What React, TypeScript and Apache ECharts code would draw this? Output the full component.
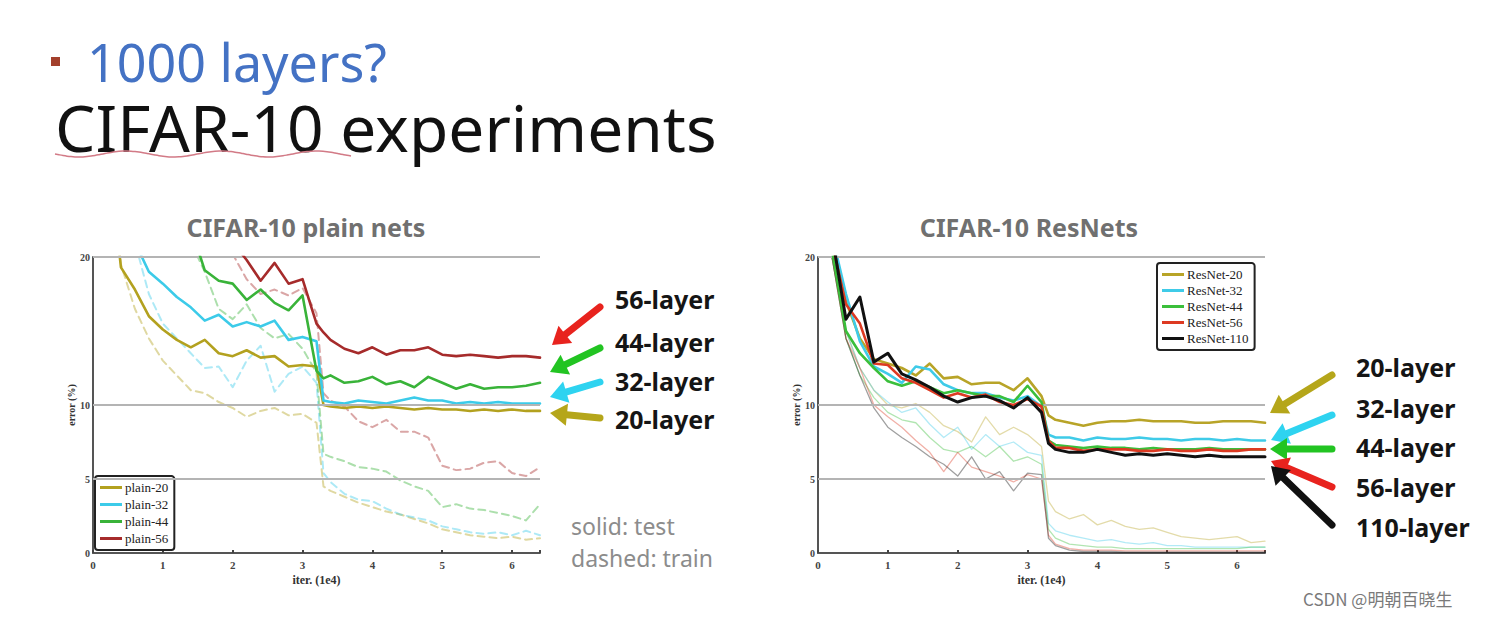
import React, { useEffect, useRef } from 'react';
import * as echarts from 'echarts';

// iterations (1e4)
const ITER = [0, 0.2, 0.4, 0.6, 0.8, 1, 1.2, 1.4, 1.6, 1.8, 2, 2.2, 2.4, 2.6, 2.8, 3, 3.2, 3.3, 3.4, 3.6, 3.8, 4, 4.2, 4.4, 4.6, 4.8, 5, 5.2, 5.4, 5.6, 5.8, 6, 6.2, 6.4];
const X_TICKS = [0, 1, 2, 3, 4, 5, 6];
const Y_TICKS = [0, 5, 10, 20];
const GRID_LINES = [5, 10, 20];

const PLAIN_NAMES = ['plain-20', 'plain-32', 'plain-44', 'plain-56'];
const RES_NAMES = ['ResNet-20', 'ResNet-32', 'ResNet-44', 'ResNet-56', 'ResNet-110'];

// plain nets, test error (solid)
const PLAIN20_TEST = [40, 28, 19.3, 17.8, 16.0, 15.1, 14.4, 13.9, 14.4, 13.5, 13.3, 13.7, 13.2, 13.3, 12.6, 12.7, 12.6, 10.0, 9.9, 9.8, 9.9, 9.8, 9.9, 9.8, 9.7, 9.8, 9.7, 9.7, 9.6, 9.7, 9.6, 9.7, 9.6, 9.6];
const PLAIN32_TEST = [40, 32, 26, 21, 19.0, 18.2, 17.3, 16.6, 15.7, 16.1, 15.3, 15.6, 15.3, 15.7, 14.4, 14.6, 14.3, 10.3, 10.2, 10.1, 10.3, 10.2, 10.1, 10.3, 10.5, 10.3, 10.3, 10.1, 10.2, 10.1, 10.2, 10.1, 10.1, 10.1];
const PLAIN44_TEST = [40, 36, 32, 29, 27, 25, 23.5, 22, 19.1, 18.4, 18.2, 17.1, 17.8, 16.9, 16.4, 17.4, 12.3, 11.8, 12.0, 11.5, 11.6, 11.9, 11.4, 11.6, 11.2, 11.9, 11.5, 11.1, 11.4, 11.1, 11.2, 11.2, 11.3, 11.5];
const PLAIN56_TEST = [40, 38, 36, 34, 32, 30, 28, 26, 24, 22, 21, 19.8, 18.4, 19.6, 18.2, 18.5, 15.5, 14.9, 14.4, 13.8, 13.5, 13.9, 13.4, 13.7, 13.7, 13.9, 13.4, 13.3, 13.4, 13.3, 13.2, 13.3, 13.3, 13.2];
// plain nets, training error (dashed)
const PLAIN20_TRAIN = [40, 30, 19.5, 16.5, 14.5, 13, 12, 11, 10.8, 10.2, 9.8, 9.2, 9.6, 9.8, 9.3, 9.4, 8.8, 4.5, 4.2, 3.8, 3.4, 3.1, 2.8, 2.6, 2.3, 2.0, 1.6, 1.4, 1.2, 1.1, 1.0, 1.1, 0.9, 1.0];
const PLAIN32_TRAIN = [40, 34, 27, 21, 17.5, 15.5, 14.5, 13.5, 12.5, 12.6, 11.2, 13.0, 14.0, 10.9, 12.1, 12.6, 11.5, 5.4, 4.8, 4.0, 3.6, 3.5, 3.0, 2.6, 2.4, 2.2, 1.8, 1.6, 1.4, 1.3, 1.4, 1.2, 1.5, 1.2];
const PLAIN44_TRAIN = [40, 38, 35, 32, 29, 26, 23, 21, 19, 16.5, 15.8, 16.8, 15.2, 14.5, 14.8, 13.8, 12.2, 6.7, 6.5, 6.2, 5.8, 5.7, 5.5, 4.9, 4.5, 4.2, 3.1, 3.3, 3.0, 2.9, 2.7, 2.5, 2.2, 3.3];
const PLAIN56_TRAIN = [40, 38, 36, 34, 32, 30, 28, 26, 24, 22, 20.2, 18.5, 17.5, 17.8, 17.4, 17.9, 16.2, 10.8, 10.3, 9.9, 8.9, 8.5, 9.0, 8.2, 8.2, 7.8, 5.9, 5.6, 5.7, 6.1, 6.2, 5.4, 5.2, 5.8];

// ResNets, test error (bold)
const RES20_TEST = [40, 21, 17, 14.5, 13.1, 12.8, 12.5, 12.0, 12.8, 11.8, 11.9, 11.4, 11.5, 11.5, 11.0, 11.8, 10.6, 9.3, 9.0, 8.8, 8.6, 8.8, 8.9, 8.9, 9.0, 8.9, 8.9, 8.9, 8.8, 8.8, 8.9, 8.9, 8.9, 8.8];
const RES32_TEST = [40, 21.5, 17.5, 14.3, 12.6, 12.1, 11.5, 12.6, 12.4, 11.4, 11.0, 10.8, 10.8, 10.5, 10.3, 10.6, 9.9, 8.0, 7.8, 7.8, 7.6, 7.8, 7.7, 7.7, 7.8, 7.7, 7.7, 7.6, 7.7, 7.7, 7.6, 7.7, 7.6, 7.6];
const RES44_TEST = [40, 20.5, 15, 13.5, 12.5, 11.6, 11.3, 11.6, 11.2, 10.8, 11.0, 10.8, 10.6, 10.6, 10.2, 11.3, 10.2, 7.6, 7.3, 7.2, 7.1, 7.2, 7.1, 7.1, 7.0, 7.1, 7.0, 7.0, 7.0, 7.1, 7.0, 7.0, 7.0, 7.0];
const RES56_TEST = [40, 21, 16.8, 15.5, 12.8, 12.7, 11.8, 11.5, 11.0, 10.5, 10.8, 10.5, 10.7, 10.2, 10.0, 10.4, 9.9, 7.6, 7.1, 7.1, 6.9, 7.0, 7.0, 7.0, 6.9, 6.9, 7.0, 6.9, 6.9, 7.0, 6.9, 6.9, 7.0, 7.0];
const RES110_TEST = [40, 21.5, 15.8, 17.3, 12.9, 13.5, 12.1, 11.7, 11.2, 10.6, 10.2, 10.5, 10.6, 10.3, 9.8, 10.5, 9.5, 7.4, 7.0, 6.8, 6.8, 7.0, 6.8, 6.6, 6.7, 6.6, 6.7, 6.6, 6.5, 6.6, 6.5, 6.5, 6.5, 6.5];
// ResNets, training error (thin)
const RES20_TRAIN = [40, 20, 15, 12.5, 11, 10, 9.8, 10.1, 9.5, 8.6, 8.2, 7.5, 9.2, 8.0, 8.5, 8.0, 7.2, 3.5, 2.8, 2.3, 2.6, 1.9, 2.2, 1.8, 1.6, 1.7, 1.4, 1.1, 1.0, 0.9, 1.0, 1.1, 0.7, 0.8];
const RES32_TRAIN = [40, 20, 15, 12.5, 11, 10.2, 9.5, 9.8, 8.7, 7.8, 8.5, 7.0, 8.0, 7.2, 7.5, 6.8, 6.6, 2.0, 1.5, 1.2, 1.0, 0.8, 0.9, 0.7, 0.6, 0.7, 0.5, 0.5, 0.4, 0.4, 0.4, 0.4, 0.4, 0.4];
const RES44_TRAIN = [40, 20, 14.5, 12, 10.5, 9.5, 9.0, 8.8, 7.8, 7.0, 6.8, 7.2, 6.5, 7.2, 6.2, 6.5, 6.0, 1.6, 1.0, 0.6, 0.5, 0.4, 0.4, 0.3, 0.3, 0.3, 0.3, 0.3, 0.3, 0.3, 0.3, 0.3, 0.4, 0.4];
const RES56_TRAIN = [40, 20, 14.5, 12.5, 10, 9.2, 8.5, 7.6, 6.8, 5.5, 6.8, 5.8, 5.5, 5.2, 4.8, 5.3, 5.0, 1.2, 0.6, 0.3, 0.2, 0.2, 0.2, 0.15, 0.15, 0.15, 0.15, 0.15, 0.15, 0.15, 0.15, 0.15, 0.15, 0.15];
const RES110_TRAIN = [40, 20, 14.5, 12, 9.8, 8.5, 7.8, 7.2, 6.5, 6.0, 5.2, 6.5, 5.0, 5.5, 4.2, 5.4, 5.3, 1.0, 0.5, 0.2, 0.1, 0.1, 0.1, 0.05, 0.05, 0.05, 0.05, 0.05, 0.05, 0.05, 0.05, 0.05, 0.05, 0.05];

const PLAIN_COLORS = ['#b3a11f', '#3ccbe9', '#39b339', '#a62b2b'];
const RES_COLORS = ['#b8a428', '#3fcbe8', '#3bbf3b', '#dd3a22', '#111111'];

const LEFT_LABELS = ['56-layer', '44-layer', '32-layer', '20-layer'];
const RIGHT_LABELS = ['20-layer', '32-layer', '44-layer', '56-layer', '110-layer'];

const SERIF = '"Liberation Serif", "DejaVu Serif", serif';
const SANS = '"Noto Sans", "Open Sans", sans-serif';

function lineSeries(name: string, values: number[], color: string, axis: number, width: number, dashed: boolean, opacity: number, z: number) {
  return {
    type: 'line',
    name,
    xAxisIndex: axis,
    yAxisIndex: axis,
    data: ITER.map((x, i) => [x, values[i]]),
    symbol: 'none',
    showSymbol: false,
    color,
    silent: true,
    z,
    lineStyle: { color, width, opacity, type: dashed ? [7, 5] : 'solid', cap: 'round', join: 'round' },
  };
}

function gridSeries(axis: number) {
  return {
    type: 'line',
    name: 'grid' + axis,
    xAxisIndex: axis,
    yAxisIndex: axis,
    data: [],
    silent: true,
    z: 1,
    markLine: {
      silent: true,
      symbol: 'none',
      animation: false,
      label: { show: false },
      lineStyle: { color: '#b4b4b4', width: 2, type: 'solid' },
      data: GRID_LINES.map((v) => ({ yAxis: v })),
    },
  };
}

function arrow(t: number[], h: number[], color: string) {
  const dx = h[0] - t[0];
  const dy = h[1] - t[1];
  const len = Math.hypot(dx, dy);
  const ux = dx / len;
  const uy = dy / len;
  const nx = -uy;
  const ny = ux;
  const L = 17;
  const W = 11;
  const bx = h[0] - ux * L;
  const by = h[1] - uy * L;
  return [
    { type: 'line', shape: { x1: t[0], y1: t[1], x2: bx + ux * 3, y2: by + uy * 3 }, style: { stroke: color, lineWidth: 7, lineCap: 'round' } },
    { type: 'polygon', shape: { points: [[h[0], h[1]], [bx + nx * W, by + ny * W], [bx - nx * W, by - ny * W]] }, style: { fill: color } },
  ];
}

const axisCommon = (gridIndex: number) => ({
  x: {
    type: 'value', gridIndex, min: 0, max: 6.4, interval: 1,
    name: 'iter. (1e4)', nameLocation: 'middle', nameGap: 21,
    nameTextStyle: { fontFamily: SERIF, fontSize: 12, fontWeight: 'bold', color: '#333' },
    axisLine: { show: true, lineStyle: { color: '#555', width: 2 } },
    axisTick: { show: true, inside: true, length: 3, lineStyle: { color: '#444', width: 2 } },
    axisLabel: { fontFamily: SERIF, fontSize: 11, fontWeight: 'bold', color: '#444', margin: 6, formatter: (v: number) => (X_TICKS.includes(v) ? String(v) : '') },
    splitLine: { show: false },
  },
  y: {
    type: 'value', gridIndex, min: 0, max: 20, interval: 5,
    name: 'error (%)', nameLocation: 'middle', nameGap: 16, nameRotate: 90,
    nameTextStyle: { fontFamily: SERIF, fontSize: 10, fontWeight: 'bold', color: '#333' },
    axisLine: { show: true, lineStyle: { color: '#555', width: 2 } },
    axisTick: { show: false },
    axisLabel: { fontFamily: SERIF, fontSize: 10, fontWeight: 'bold', color: '#444', margin: 3, formatter: (v: number) => (Y_TICKS.includes(v) ? String(v) : '') },
    splitLine: { show: false },
  },
});

export default function App() {
  const ref = useRef<HTMLDivElement>(null);
  useEffect(() => {
    if (!ref.current) return;
    const chart = echarts.init(ref.current, undefined, { renderer: 'svg' });
    const a0 = axisCommon(0);
    const a1 = axisCommon(1);

    const plainTest = [PLAIN20_TEST, PLAIN32_TEST, PLAIN44_TEST, PLAIN56_TEST];
    const plainTrain = [PLAIN20_TRAIN, PLAIN32_TRAIN, PLAIN44_TRAIN, PLAIN56_TRAIN];
    const resTest = [RES20_TEST, RES32_TEST, RES44_TEST, RES56_TEST, RES110_TEST];
    const resTrain = [RES20_TRAIN, RES32_TRAIN, RES44_TRAIN, RES56_TRAIN, RES110_TRAIN];

    const series: any[] = [gridSeries(0), gridSeries(1)];
    PLAIN_NAMES.forEach((n, i) => series.push(lineSeries(n + ' train', plainTrain[i], PLAIN_COLORS[i], 0, 2, true, 0.42, 2)));
    PLAIN_NAMES.forEach((n, i) => series.push(lineSeries(n, plainTest[i], PLAIN_COLORS[i], 0, 2.6, false, 1, 3 + i)));
    RES_NAMES.forEach((n, i) => series.push(lineSeries(n + ' train', resTrain[i], RES_COLORS[i], 1, 1.3, false, 0.4, 2)));
    RES_NAMES.forEach((n, i) => series.push(lineSeries(n, resTest[i], RES_COLORS[i], 1, i === 4 ? 3 : 2.6, false, 1, 3 + i)));

    const legendCommon = {
      orient: 'vertical',
      icon: 'rect',
      itemWidth: 22,
      itemHeight: 3,
      itemGap: 4,
      padding: [5, 6, 5, 5],
      borderColor: '#222',
      borderWidth: 2,
      borderRadius: 3,
      backgroundColor: '#fff',
      selectedMode: false,
      textStyle: { fontFamily: SERIF, fontSize: 13, color: '#222', padding: [0, 0, 0, -2] },
    };

    const arrowsLeft = [
      [[600, 307], [552, 345], '#e8231e'],
      [[600, 348], [550, 372], '#22c422'],
      [[600, 382], [550, 397], '#2ed3f0'],
      [[600, 418], [550, 413], '#b5a61a'],
    ];
    const arrowsRight = [
      [[1332, 375], [1270, 413], '#b5a61a'],
      [[1332, 415], [1271, 440], '#2ed3f0'],
      [[1332, 449], [1270, 449], '#22c422'],
      [[1332, 487], [1271, 461], '#e8231e'],
      [[1332, 525], [1271, 466], '#111111'],
    ];

    const squiggle: number[][] = [];
    for (let x = 55; x <= 352; x += 4) {
      squiggle.push([x, 154 + 3 * Math.sin(((x - 55) / 95) * Math.PI * 2)]);
    }

    const graphics: any[] = [
      { type: 'rect', shape: { x: 51, y: 57, width: 9, height: 9 }, style: { fill: '#a3402c' } },
      {
        type: 'text', x: 55, y: 28,
        style: {
          text: '{a|1000 layers?}\n{b|CIFAR-10 experiments}',
          textVerticalAlign: 'top',
          rich: {
            a: { fontFamily: SANS, fontSize: 52, lineHeight: 66, fill: '#4472c4', color: '#4472c4', padding: [0, 0, 0, 32] },
            b: { fontFamily: SANS, fontSize: 64, lineHeight: 66, fill: '#111', color: '#111' },
          },
        },
      },
      { type: 'polyline', shape: { points: squiggle, smooth: 0.4 }, style: { stroke: '#d27a86', lineWidth: 1.5, fill: 'none' } },
      { type: 'text', x: 306, y: 227, style: { text: 'CIFAR-10 plain nets', font: `bold 25px ${SANS}`, fill: '#707070', textAlign: 'center', textVerticalAlign: 'middle' } },
      { type: 'text', x: 1029, y: 227, style: { text: 'CIFAR-10 ResNets', font: `bold 25px ${SANS}`, fill: '#707070', textAlign: 'center', textVerticalAlign: 'middle' } },
      { type: 'text', x: 571, y: 526, style: { text: 'solid: test', font: `23px ${SANS}`, fill: '#8c8c8c', textVerticalAlign: 'middle' } },
      { type: 'text', x: 571, y: 558, style: { text: 'dashed: train', font: `23px ${SANS}`, fill: '#8c8c8c', textVerticalAlign: 'middle' } },
      { type: 'text', x: 1303, y: 598, style: { text: 'CSDN @明朝百晓生', font: `17px "Noto Sans CJK SC", sans-serif`, fill: '#7a7a7a', textVerticalAlign: 'middle' } },
    ];
    const leftY = [299, 342, 381, 419];
    LEFT_LABELS.forEach((t, i) => graphics.push({ type: 'text', x: 615, y: leftY[i], style: { text: t, font: `bold 25px ${SANS}`, fill: '#151515', textVerticalAlign: 'middle' } }));
    const rightY = [367, 408, 447, 487, 527];
    RIGHT_LABELS.forEach((t, i) => graphics.push({ type: 'text', x: 1356, y: rightY[i], style: { text: t, font: `bold 25px ${SANS}`, fill: '#151515', textVerticalAlign: 'middle' } }));
    arrowsLeft.forEach((a: any) => graphics.push(...arrow(a[0], a[1], a[2])));
    arrowsRight.forEach((a: any) => graphics.push(...arrow(a[0], a[1], a[2])));

    chart.setOption({
      animation: false,
      backgroundColor: '#ffffff',
      grid: [
        { left: 93, top: 257, width: 447, height: 296, containLabel: false },
        { left: 818, top: 257, width: 447, height: 296, containLabel: false },
      ],
      xAxis: [a0.x, a1.x],
      yAxis: [a0.y, a1.y],
      legend: [
        { ...legendCommon, left: 95, top: 476, data: PLAIN_NAMES },
        { ...legendCommon, left: 1157, top: 263, itemGap: 3, data: RES_NAMES },
      ],
      series,
      graphic: { elements: graphics },
    });
    return () => chart.dispose();
  }, []);
  return <div ref={ref} style={{ position: 'fixed', left: 0, top: 0, width: 1490, height: 617 }} />;
}
